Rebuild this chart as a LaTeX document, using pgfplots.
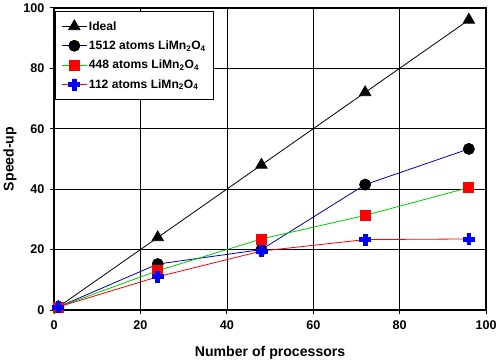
\documentclass[border=0pt]{standalone}
\usepackage{pgfplots}
\pgfplotsset{compat=1.18}
\usepackage{fontspec}
\setmainfont{Liberation Sans}
\pgfdeclareplotmark{fatplus}{%
  \pgfpathmoveto{\pgfqpoint{-0.35\pgfplotmarksize}{-\pgfplotmarksize}}%
  \pgfpathlineto{\pgfqpoint{0.35\pgfplotmarksize}{-\pgfplotmarksize}}%
  \pgfpathlineto{\pgfqpoint{0.35\pgfplotmarksize}{-0.35\pgfplotmarksize}}%
  \pgfpathlineto{\pgfqpoint{\pgfplotmarksize}{-0.35\pgfplotmarksize}}%
  \pgfpathlineto{\pgfqpoint{\pgfplotmarksize}{0.35\pgfplotmarksize}}%
  \pgfpathlineto{\pgfqpoint{0.35\pgfplotmarksize}{0.35\pgfplotmarksize}}%
  \pgfpathlineto{\pgfqpoint{0.35\pgfplotmarksize}{\pgfplotmarksize}}%
  \pgfpathlineto{\pgfqpoint{-0.35\pgfplotmarksize}{\pgfplotmarksize}}%
  \pgfpathlineto{\pgfqpoint{-0.35\pgfplotmarksize}{0.35\pgfplotmarksize}}%
  \pgfpathlineto{\pgfqpoint{-\pgfplotmarksize}{0.35\pgfplotmarksize}}%
  \pgfpathlineto{\pgfqpoint{-\pgfplotmarksize}{-0.35\pgfplotmarksize}}%
  \pgfpathlineto{\pgfqpoint{-0.35\pgfplotmarksize}{-0.35\pgfplotmarksize}}%
  \pgfpathclose
  \pgfusepathqfillstroke
}
\begin{document}
\begin{tikzpicture}
\begin{axis}[
  scale only axis,
  width=429pt, height=300pt,
  xmin=0, xmax=100, ymin=0, ymax=100,
  xtick={0,20,...,100}, ytick={0,20,...,100},
  grid=major,
  major grid style={black, line width=0.6pt},
  axis line style={line width=1.5pt},
  tick align=outside,
  tick pos=left,
  major tick length=4pt,
  tick style={black, line width=0.8pt},
  /pgf/number format/assume math mode=true,
  tick label style={font=\bfseries\fontsize{12.5}{14}\selectfont},
  xticklabel style={yshift=-3pt},
  yticklabel style={xshift=-2pt},
  xlabel={Number of processors},
  ylabel={Speed-up},
  label style={font=\bfseries\fontsize{14}{16}\selectfont},
  xlabel style={yshift=-10pt},
  ylabel style={yshift=0pt},
  legend style={at={(0.003,0.99)}, anchor=north west, draw=black, line width=0.8pt,
    font=\bfseries\fontsize{12}{14}\selectfont, row sep=5pt, inner xsep=6pt, inner ysep=8pt,
    cells={anchor=west}},
  legend image code/.code={%
    \draw[#1, line width=0.8pt] (0cm,0cm) -- (0.85cm,0cm);
    \draw[#1, line width=0.8pt] plot coordinates {(0.425cm,0cm)};},
]
\addplot[black, line width=0.8pt, mark=triangle*, mark size=6.5pt, mark options={fill=black, draw=black}]
  coordinates {(1,1) (24,24) (48,48) (72,72) (96,96)};
\addlegendentry{Ideal}
\addplot[blue!70!black, line width=0.8pt, mark=*, mark size=5.5pt, mark options={fill=black, draw=black}]
  coordinates {(1,1) (24,15.2) (48,20) (72,41.5) (96,53.3)};
\addlegendentry{1512 atoms LiMn\textsubscript{2}O\textsubscript{4}}
\addplot[green!80!black, line width=0.8pt, mark=square*, mark size=5pt, mark options={fill=red, draw=red}]
  coordinates {(1,1) (24,13) (48,23.5) (72,31.3) (96,40.5)};
\addlegendentry{448 atoms LiMn\textsubscript{2}O\textsubscript{4}}
\addplot[red, line width=0.8pt, mark=fatplus, mark size=5.5pt, mark options={fill=blue, draw=blue}]
  coordinates {(1,1) (24,11) (48,19.5) (72,23.3) (96,23.5)};
\addlegendentry{112 atoms LiMn\textsubscript{2}O\textsubscript{4}}
\end{axis}
\end{tikzpicture}
\end{document}
